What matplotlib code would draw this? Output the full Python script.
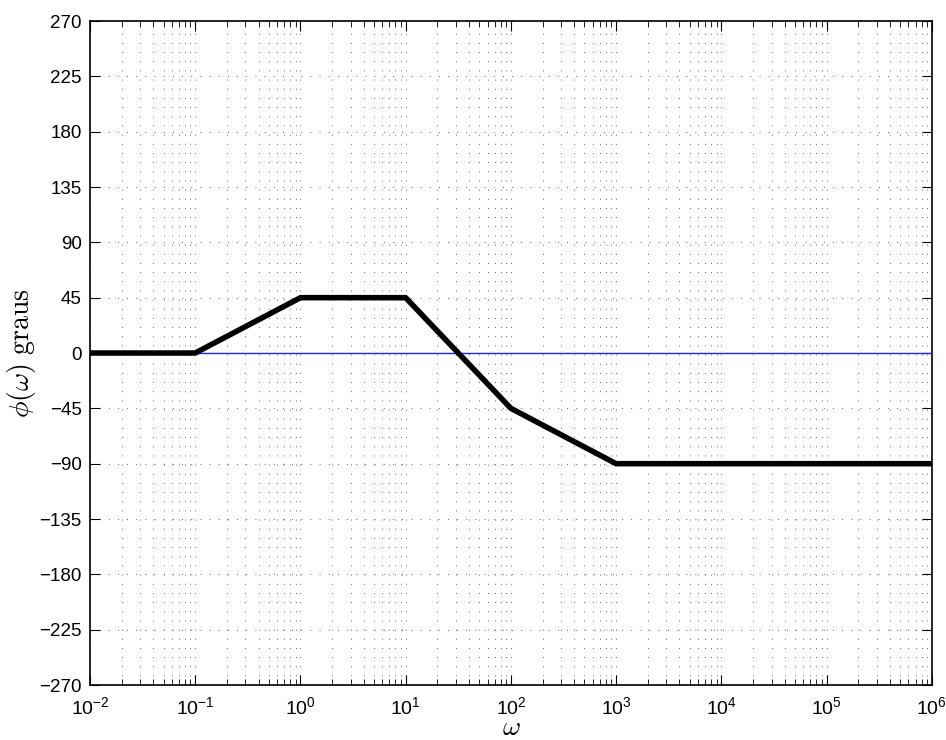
import numpy as np
import matplotlib.pyplot as plt
from matplotlib.ticker import LogLocator, FixedLocator

plt.rcParams['mathtext.fontset'] = 'cm'
plt.rcParams['font.family'] = ['Liberation Sans', 'DejaVu Sans']

# asymptotic phase (Bode) corner points
w_pts = [1e-2, 1e-1, 1e0, 1e1, 1e2, 1e3, 1e6]
phi_pts = [0, 0, 45, 45, -45, -90, -90]

# zero reference line
w_ref = [1e-2, 1e6]
phi_ref = [0, 0]

yticks = list(range(-270, 271, 45))

fig = plt.figure(figsize=(9.46, 7.40), dpi=100)
ax = fig.add_axes([0.0951, 0.0743, 0.8899, 0.8973])

ax.semilogx(w_ref, phi_ref, color='#2020ff', linewidth=1.0, zorder=3)
ax.semilogx(w_pts, phi_pts, color='black', linewidth=4, zorder=4)

ax.set_xlim(1e-2, 1e6)
ax.set_ylim(-270, 270)
ax.yaxis.set_major_locator(FixedLocator(yticks))
ax.xaxis.set_major_locator(LogLocator(base=10, numticks=20))
ax.xaxis.set_minor_locator(LogLocator(base=10, subs=np.arange(2, 10), numticks=20))

grid_style = dict(linestyle=(0, (1, 10)), color='#333333', linewidth=0.6)
ax.grid(True, which='major', **grid_style)
ax.grid(True, which='minor', axis='x', **grid_style)

ax.tick_params(which='both', direction='in', top=True, right=True)
ax.tick_params(axis='y', labelsize=13.5, pad=6)
ax.tick_params(axis='x', labelsize=14, pad=8)
ax.tick_params(which='major', length=7)
ax.tick_params(which='minor', length=4)
for s in ax.spines.values():
    s.set_linewidth(1.2)

ax.set_xlabel(r'$\omega$', fontsize=20, labelpad=-2)
ax.set_ylabel(r'$\phi(\omega)\ \mathrm{graus}$', fontsize=20, labelpad=1)

fig.savefig('out.png', dpi=100)
